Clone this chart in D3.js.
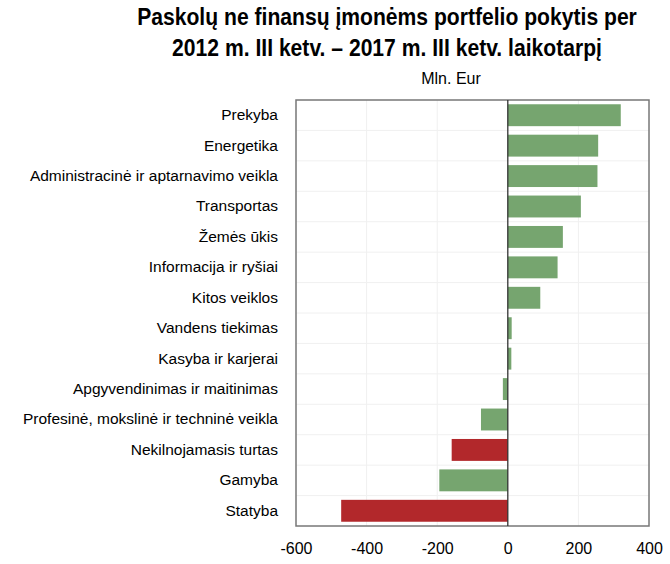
<!DOCTYPE html>
<html><head><meta charset="utf-8">
<script src="https://cdn.jsdelivr.net/npm/d3@7"></script>
<style>body{margin:0;background:#fff}</style>
</head><body>
<svg id="c" width="670" height="564"></svg>
<script>
const categories = ["Prekyba","Energetika","Administracinė ir aptarnavimo veikla","Transportas","Žemės ūkis","Informacija ir ryšiai","Kitos veiklos","Vandens tiekimas","Kasyba ir karjerai","Apgyvendinimas ir maitinimas","Profesinė, mokslinė ir techninė veikla","Nekilnojamasis turtas","Gamyba","Statyba"];
const values = [320,256,254,207,156,141,92,11,10,-14,-76,-159,-194,-472];
const highlighted = [false,false,false,false,false,false,false,false,false,false,false,true,false,true];
const xTicks = [-600,-400,-200,0,200,400];
const titleLines = ["Paskolų ne finansų įmonėms portfelio pokytis per","2012 m. III ketv. – 2017 m. III ketv. laikotarpį"];
const unitLabel = "Mln. Eur";

const svg = d3.select("#c");
const L = 296, R = 649, T = 100, B = 526;
const x = d3.scaleLinear().domain([-600,400]).range([L,R]);
const y = d3.scaleBand().domain(categories).range([T,B]).paddingInner(0.28).paddingOuter(0.14);
const font = "'Liberation Sans', Arial, sans-serif";

// title (horizontally condensed to mimic a narrow face)
const titleWidths = [500, 430];
svg.selectAll("text.title").data(titleLines).join("text")
  .attr("class","title")
  .attr("x",0).attr("y",0)
  .attr("text-anchor","middle")
  .attr("font-family",font)
  .attr("font-weight","bold").attr("font-size",23.5).attr("fill","#000")
  .text(d=>d)
  .each(function(d,i){
    const w = this.getComputedTextLength();
    const s = titleWidths[i]/w;
    d3.select(this).attr("transform",`translate(387,${25+i*31}) scale(${s},1)`);
  });

svg.append("text").attr("x",451).attr("y",84).attr("text-anchor","middle")
  .attr("font-family",font).attr("font-size",16).attr("fill","#000")
  .text(unitLabel);

// gridlines
svg.append("g").selectAll("line").data(xTicks.filter(d=>d!==0 && d>-600 && d<400)).join("line")
  .attr("x1",d=>x(d)).attr("x2",d=>x(d)).attr("y1",T).attr("y2",B)
  .attr("stroke","#f0f0f0").attr("stroke-width",1);
svg.append("g").selectAll("line").data(categories.slice(1)).join("line")
  .attr("x1",L).attr("x2",R)
  .attr("y1",d=>y(d)-y.step()*y.paddingInner()/2).attr("y2",d=>y(d)-y.step()*y.paddingInner()/2)
  .attr("stroke","#f0f0f0").attr("stroke-width",1);

// bars
svg.append("g").selectAll("rect").data(values).join("rect")
  .attr("x",d=>x(Math.min(0,d))).attr("width",d=>Math.abs(x(d)-x(0)))
  .attr("y",(d,i)=>y(categories[i])).attr("height",y.bandwidth())
  .attr("fill",(d,i)=>highlighted[i]?"#b2282b":"#76a56f");

// frame
svg.append("rect").attr("x",L).attr("y",T).attr("width",R-L).attr("height",B-T)
  .attr("fill","none").attr("stroke","#777").attr("stroke-width",1.5);
// zero line
svg.append("line").attr("x1",x(0)).attr("x2",x(0)).attr("y1",T).attr("y2",B)
  .attr("stroke","#333").attr("stroke-width",1.3);

// category labels
const yAxis = d3.axisLeft(y).tickSize(0).tickPadding(18);
const gy = svg.append("g").attr("transform",`translate(${L},0)`).call(yAxis);
gy.select(".domain").remove();
gy.selectAll("text").attr("font-family",font).attr("font-size",15.5).attr("fill","#000");

// x axis labels
const xAxis = d3.axisBottom(x).tickValues(xTicks).tickSize(0).tickPadding(17).tickFormat(d=>String(d));
const gx = svg.append("g").attr("transform",`translate(0,${B})`).call(xAxis);
gx.select(".domain").remove();
gx.selectAll("text").attr("font-family",font).attr("font-size",16).attr("fill","#000");
</script>
</body></html>
